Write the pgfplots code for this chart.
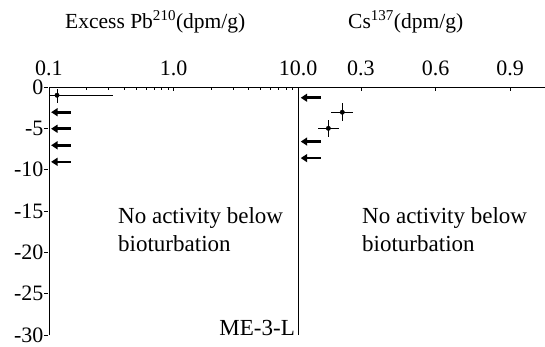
\documentclass[border=0pt]{standalone}
\usepackage{fontspec}
\setmainfont{Liberation Serif}
\usepackage{pgfplots}
\pgfplotsset{compat=1.18}
\usetikzlibrary{arrows.meta}
\newcommand{\tickf}{\fontsize{22bp}{26bp}\selectfont}
\newcommand{\titf}{\fontsize{21.5bp}{26bp}\selectfont}
\newcommand{\annf}{\fontsize{23bp}{27bp}\selectfont}
\begin{document}
\begin{tikzpicture}[x=1bp,y=1bp]
\useasboundingbox (0,0) rectangle (545,346);
\pgfplotsset{
  base/.style={
    scale only axis, height=248bp, ymin=-30, ymax=0,
    axis x line=top, axis y line=left,
    axis line style={-, line width=0.9bp, black},
    tick style={black, line width=0.6bp},
    tick align=inside,
    major tick length=4bp, minor tick length=2.5bp,
    ticklabel style={font=\tickf},
    xticklabel style={yshift=8bp},
  },
  arr/.style={black, line width=2.6bp, -{Triangle[length=6.5bp,width=8bp]}},
  pts/.style={only marks, mark=*, mark size=2.2bp, black,
    error bars/.cd, x dir=both, x explicit, y dir=both, y explicit,
    error bar style={line width=0.8bp, black}, error mark=none},
}
% left panel: excess Pb-210 (log)
\begin{axis}[base, at={(49bp,11bp)}, anchor=south west, width=249bp,
  xmode=log, xmin=0.1, xmax=10,
  xtick={0.1,1,10}, xticklabels={0.1,1.0,10.0},
  minor xtick={0.2,0.3,0.4,0.5,0.6,0.7,0.8,0.9,2,3,4,5,6,7,8,9},
  ytick={0,-5,-10,-15,-20,-25,-30},
  yticklabels={0,-5,-10,-15,-20,-25,-30},
  y tick style={xshift=-5bp}, yticklabel style={xshift=-2bp},
]
\addplot[pts] coordinates {(0.116,-1) += (0.21,0.8) -= (0.016,0.9)};
\addplot[arr] coordinates {(0.150,-3.05) (0.104,-3.05)};
\addplot[arr] coordinates {(0.150,-5.05) (0.104,-5.05)};
\addplot[arr] coordinates {(0.150,-7.05) (0.104,-7.05)};
\addplot[arr] coordinates {(0.150,-9.05) (0.104,-9.05)};
\end{axis}
% right panel: Cs-137 (linear)
\begin{axis}[base, at={(298bp,11bp)}, anchor=south west, width=247bp,
  xmin=0.047, xmax=1.04,
  xtick={0.3,0.6,0.9}, xticklabels={0.3,0.6,0.9},
  ytick=\empty,
]
\addplot[pts] coordinates {(0.225,-3.05) +- (0.045,1.1) (0.169,-5) +- (0.043,1.05)};
\addplot[arr] coordinates {(0.138,-1.3) (0.058,-1.3)};
\addplot[arr] coordinates {(0.138,-6.6) (0.058,-6.6)};
\addplot[arr] coordinates {(0.138,-8.6) (0.058,-8.6)};
\end{axis}
\node[anchor=base west, inner sep=0] at (65,318) {\titf Excess Pb\textsuperscript{210}(dpm/g)};
\node[anchor=base west, inner sep=0] at (348,318) {\titf Cs\textsuperscript{137}(dpm/g)};
\node[anchor=base west, inner sep=0] at (118,123) {\annf No activity below};
\node[anchor=base west, inner sep=0] at (118,95) {\annf bioturbation};
\node[anchor=base west, inner sep=0] at (362,123) {\annf No activity below};
\node[anchor=base west, inner sep=0] at (362,95) {\annf bioturbation};
\node[anchor=base east, inner sep=0] at (295,11) {\annf ME-3-L};
\end{tikzpicture}
\end{document}
